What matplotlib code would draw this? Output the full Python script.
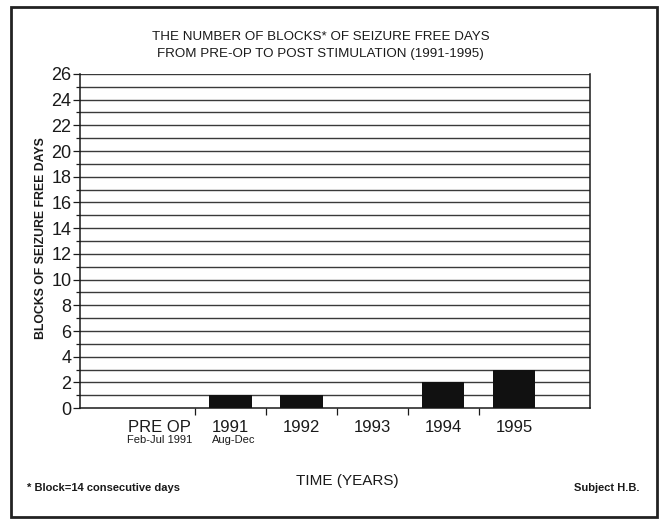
import matplotlib
matplotlib.use("Agg")
from matplotlib import pyplot as plt
from matplotlib.patches import Rectangle
import numpy as np

plt.rcParams['font.family'] = ['Liberation Sans', 'DejaVu Sans']

categories = ['PRE OP', '1991', '1992', '1993', '1994', '1995']
sublabels = ['Feb-Jul 1991', 'Aug-Dec', '', '', '', '']
blocks = [0, 1, 1, 0, 2, 3]

ink = '#1a1a1a'

fig = plt.figure(figsize=(6.65, 5.24), dpi=100)
ax = fig.add_axes([0.120, 0.221, 0.767, 0.638])

x = np.arange(len(categories))
ax.bar(x, blocks, width=0.6, color='#111111', zorder=3)

ax.set_xlim(-1.13, 6.07)
ax.set_ylim(0, 26)

# horizontal rules at every block
for v in range(1, 27):
    ax.axhline(v, color='#3a3a3a', lw=1.0, zorder=1)

ax.set_yticks(range(0, 27, 2))
ax.set_yticks(range(1, 26, 2), minor=True)
ax.tick_params(axis='y', which='major', length=5, width=0.9, labelsize=13,
               colors=ink, pad=1)
ax.tick_params(axis='y', which='minor', length=3, width=0.9, colors=ink)

ax.set_xticks(x[:-1] + 0.5)
ax.set_xticklabels([])
ax.tick_params(axis='x', length=5, width=0.9, colors=ink)

for i, (c, s) in enumerate(zip(categories, sublabels)):
    ax.text(i, -0.9, c, ha='center', va='top', fontsize=12, color=ink)
    if s:
        ax.text(i + (0.05 if i else 0), -2.1, s, ha='center', va='top',
                fontsize=8, color=ink)

ax.spines['top'].set_visible(False)
for side in ['left', 'right', 'bottom']:
    ax.spines[side].set_color(ink)
    ax.spines[side].set_linewidth(1.1)

ax.set_ylabel('BLOCKS OF SEIZURE FREE DAYS', fontsize=8.8, color=ink,
              fontweight='bold')
ax.yaxis.set_label_coords(-0.064, 0.51)

fig.text(0.482, 0.930, 'THE NUMBER OF BLOCKS* OF SEIZURE FREE DAYS',
         ha='center', va='center', fontsize=9.6, color=ink)
fig.text(0.482, 0.897, 'FROM PRE-OP TO POST STIMULATION (1991-1995)',
         ha='center', va='center', fontsize=9.6, color=ink)

fig.text(0.522, 0.082, 'TIME (YEARS)', ha='center', va='center',
         fontsize=11, color=ink)
fig.text(0.040, 0.068, '* Block=14 consecutive days', ha='left',
         va='center', fontsize=8, color=ink, fontweight='bold')
fig.text(0.962, 0.068, 'Subject H.B.', ha='right', va='center',
         fontsize=8, color=ink, fontweight='bold')

fig.patches.append(Rectangle((0.016, 0.014), 0.972, 0.972,
                             transform=fig.transFigure, fill=False,
                             edgecolor='#222222', lw=2))

fig.savefig('out.png', dpi=100)
